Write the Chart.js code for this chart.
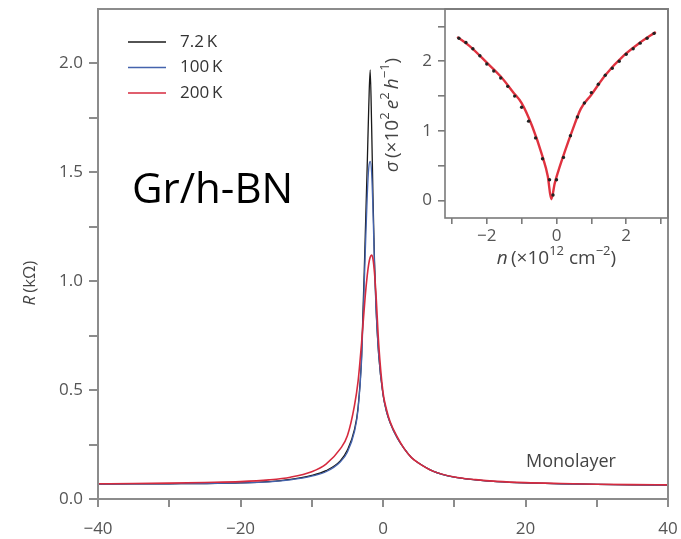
<!DOCTYPE html>
<html>
<head>
<meta charset="utf-8">
<script src="https://cdn.jsdelivr.net/npm/chart.js@4.4.1/dist/chart.umd.min.js"></script>
<style>
  html, body { margin: 0; padding: 0; background: #fff; }
  #wrap { position: relative; width: 681px; height: 539px; }
  #mainChart { position: absolute; left: 0; top: 0; }
  #insetChart { position: absolute; left: 380px; top: 0; }
</style>
</head>
<body>
<div id="wrap">
  <canvas id="mainChart" width="681" height="539"></canvas>
  <canvas id="insetChart" width="295" height="275"></canvas>
</div>
<script>
// main panel: R vs gate voltage
const seriesLabels = ['7.2\u2009K', '100\u2009K', '200\u2009K'];
const vg = [-40, -35, -30, -25, -20, -16, -13, -10, -8, -6, -5, -4, -3.5, -3, -2.5, -2.2, -2, -1.8, -1.6, -1.4, -1.2, -1, -0.6, 0, 0.5, 1, 2, 3, 4, 5, 7, 10, 13, 16, 20, 25, 30, 35, 40];
const r72 = [0.068, 0.069, 0.070, 0.071, 0.074, 0.080, 0.090, 0.108, 0.130, 0.175, 0.225, 0.32, 0.42, 0.66, 1.20, 1.55, 1.80, 1.97, 1.72, 1.38, 1.10, 0.90, 0.66, 0.48, 0.40, 0.35, 0.28, 0.23, 0.19, 0.165, 0.128, 0.100, 0.088, 0.080, 0.074, 0.070, 0.067, 0.065, 0.064];
const r100 = [0.068, 0.069, 0.070, 0.071, 0.074, 0.079, 0.088, 0.105, 0.125, 0.170, 0.215, 0.31, 0.41, 0.64, 1.12, 1.40, 1.52, 1.55, 1.50, 1.32, 1.08, 0.89, 0.66, 0.48, 0.40, 0.35, 0.28, 0.23, 0.19, 0.165, 0.128, 0.100, 0.088, 0.080, 0.074, 0.070, 0.067, 0.065, 0.064];
const r200 = [0.070, 0.071, 0.073, 0.076, 0.080, 0.088, 0.100, 0.125, 0.160, 0.230, 0.29, 0.43, 0.54, 0.72, 0.93, 1.03, 1.08, 1.11, 1.12, 1.10, 1.04, 0.95, 0.71, 0.49, 0.41, 0.355, 0.285, 0.23, 0.19, 0.165, 0.128, 0.101, 0.089, 0.081, 0.075, 0.071, 0.068, 0.066, 0.065];
const xTicks = [-40, -30, -20, -10, 0, 10, 20, 30, 40];
const yTicks = [0, 0.25, 0.5, 0.75, 1, 1.25, 1.5, 1.75, 2];

// inset: conductivity vs carrier density
const nDots = [-2.8, -2.6, -2.4, -2.2, -2.0, -1.8, -1.6, -1.4, -1.2, -1.0, -0.8, -0.6, -0.4, -0.2, -0.1, 0.0, 0.2, 0.4, 0.6, 0.8, 1.0, 1.2, 1.4, 1.6, 1.8, 2.0, 2.2, 2.4, 2.6, 2.8];
const sigmaDots = [2.33, 2.27, 2.18, 2.08, 1.96, 1.86, 1.76, 1.64, 1.50, 1.34, 1.14, 0.90, 0.60, 0.30, 0.08, 0.30, 0.62, 0.93, 1.20, 1.40, 1.55, 1.67, 1.80, 1.90, 2.00, 2.10, 2.18, 2.26, 2.33, 2.40];
const nFit = [-2.85, -2.5, -2.0, -1.6, -1.25, -1.0, -0.7, -0.4, -0.25, -0.15, -0.05, 0.05, 0.25, 0.45, 0.7, 1.0, 1.4, 1.95, 2.35, 2.85];
const sigmaFit = [2.35, 2.22, 1.98, 1.78, 1.56, 1.40, 1.07, 0.63, 0.35, 0.02, 0.25, 0.42, 0.72, 1.00, 1.32, 1.52, 1.80, 2.09, 2.25, 2.42];
const nTicks = [-3, -2, -1, 0, 1, 2, 3];
const sTicks = [0, 0.5, 1, 1.5, 2, 2.5];

const lineColors = ['#1a1a1a', '#4463ad', '#d62a3e'];
const tickFont = { family: 'Open Sans', size: 17 };
const axisGray = '#8c8c8c';

function pts(xs, ys) {
  return xs.map((x, i) => ({ x: x, y: ys[i] }));
}
function minus(v) {
  return String(v).replace('-', '\u2212');
}
// keep the plot area where it is; tick labels may overhang
function noPad(s) {
  s.paddingTop = 0;
  s.paddingBottom = 0;
  s.paddingLeft = 0;
  s.paddingRight = 0;
}

// draws text made of pieces: '' normal, 'i' italic, 's' superscript
function drawRich(ctx, segs, x, y, size, rotate) {
  const fontFor = (kind) => {
    const sz = kind === 's' ? Math.round(size * 0.7) : size;
    return (kind === 'i' ? 'italic ' : '') + sz + 'px "Open Sans"';
  };
  let total = 0;
  segs.forEach(([t, k]) => { ctx.font = fontFor(k); total += ctx.measureText(t).width; });
  ctx.save();
  ctx.translate(x, y);
  if (rotate) ctx.rotate(-Math.PI / 2);
  ctx.textBaseline = 'middle';
  ctx.textAlign = 'left';
  let cx = -total / 2;
  segs.forEach(([t, k]) => {
    ctx.font = fontFor(k);
    ctx.fillText(t, cx, k === 's' ? -size * 0.38 : 0);
    cx += ctx.measureText(t).width;
  });
  ctx.restore();
}

const mainDecor = {
  id: 'mainDecor',
  afterDraw(chart) {
    const { ctx, chartArea: a } = chart;
    ctx.save();
    ctx.strokeStyle = axisGray;
    ctx.lineWidth = 2;
    ctx.strokeRect(a.left, a.top, a.right - a.left, a.bottom - a.top);

    // legend
    ctx.font = '17px "Open Sans"';
    ctx.textBaseline = 'middle';
    chart.data.datasets.forEach((ds, i) => {
      const ly = 42 + i * 25.5;
      ctx.strokeStyle = ds.borderColor;
      ctx.lineWidth = 1.5;
      ctx.beginPath();
      ctx.moveTo(128, ly);
      ctx.lineTo(166, ly);
      ctx.stroke();
      ctx.fillStyle = '#333';
      ctx.fillText(ds.label, 180, ly);
    });

    ctx.fillStyle = '#000';
    ctx.font = '42px "Open Sans"';
    ctx.fillText('Gr/h-BN', 132, 191);

    ctx.fillStyle = '#444';
    ctx.font = '18px "Open Sans"';
    ctx.fillText('Monolayer', 526, 462);

    ctx.fillStyle = '#444';
    drawRich(ctx, [['R', 'i'], ['\u2009(k\u03a9)', '']], 30, 283, 17, true);
    ctx.restore();
  }
};

const insetDecor = {
  id: 'insetDecor',
  afterDraw(chart) {
    const { ctx, chartArea: a } = chart;
    ctx.save();
    ctx.strokeStyle = '#7a7a7a';
    ctx.lineWidth = 1.6;
    ctx.strokeRect(a.left, a.top, a.right - a.left, a.bottom - a.top);
    ctx.fillStyle = '#444';
    drawRich(ctx, [['\u03c3', 'i'], ['\u2009(\u00d710', ''], ['2', 's'], ['\u2009', ''], ['e', 'i'], ['2', 's'], ['\u2009', ''], ['h', 'i'], ['\u22121', 's'], [')', '']], 13, 115, 19, true);
    drawRich(ctx, [['n', 'i'], ['\u2009(\u00d710', ''], ['12', 's'], [' cm', ''], ['\u22122', 's'], [')', '']], (a.left + a.right) / 2, 259, 19, false);
    ctx.restore();
  }
};

new Chart(document.getElementById('mainChart').getContext('2d'), {
  type: 'line',
  data: {
    datasets: [
      { label: seriesLabels[0], data: pts(vg, r72), borderColor: lineColors[0], borderWidth: 1.3, order: 2 },
      { label: seriesLabels[1], data: pts(vg, r100), borderColor: lineColors[1], borderWidth: 1.3, order: 1 },
      { label: seriesLabels[2], data: pts(vg, r200), borderColor: lineColors[2], borderWidth: 1.6, order: 0 }
    ]
  },
  options: {
    responsive: false,
    animation: false,
    layout: { padding: { top: 9, right: 13, left: 0, bottom: 0 } },
    elements: { point: { radius: 0 }, line: { cubicInterpolationMode: 'monotone' } },
    plugins: { legend: { display: false }, tooltip: { enabled: false } },
    scales: {
      x: {
        type: 'linear', min: -40, max: 40,
        afterBuildTicks: (s) => { s.ticks = xTicks.map(v => ({ value: v })); },
        afterFit: (s) => { s.height = 40; noPad(s); },
        ticks: { autoSkip: false, maxRotation: 0, padding: 12, color: '#555', font: tickFont,
          callback: (v) => (v % 20 === 0 ? minus(v) : '') },
        grid: { drawOnChartArea: false, tickLength: 8, color: axisGray, lineWidth: 2 },
        border: { display: false }
      },
      y: {
        type: 'linear', min: 0, max: 2.25,
        afterBuildTicks: (s) => { s.ticks = yTicks.map(v => ({ value: v })); },
        afterFit: (s) => { s.width = 98; noPad(s); },
        ticks: { autoSkip: false, padding: 6, color: '#555', font: tickFont,
          callback: (v) => (Math.abs(v * 2 - Math.round(v * 2)) < 1e-9 ? v.toFixed(1) : '') },
        grid: { drawOnChartArea: false, tickLength: 9, color: axisGray, lineWidth: 2 },
        border: { display: false }
      }
    }
  },
  plugins: [mainDecor]
});

new Chart(document.getElementById('insetChart').getContext('2d'), {
  type: 'line',
  data: {
    datasets: [
      { label: 'data', data: pts(nDots, sigmaDots), showLine: false, pointRadius: 1.7,
        pointBackgroundColor: '#222', pointBorderWidth: 0, order: 0 },
      { label: 'fit', data: pts(nFit, sigmaFit), borderColor: '#e0323f', borderWidth: 2.4,
        pointRadius: 0, cubicInterpolationMode: 'monotone', order: 1 }
    ]
  },
  options: {
    responsive: false,
    animation: false,
    layout: { padding: { top: 9, right: 7, left: 0, bottom: 0 } },
    plugins: { legend: { display: false }, tooltip: { enabled: false } },
    scales: {
      x: {
        type: 'linear', min: -3.2, max: 3.2,
        afterBuildTicks: (s) => { s.ticks = nTicks.map(v => ({ value: v })); },
        afterFit: (s) => { s.height = 57; noPad(s); },
        ticks: { autoSkip: false, maxRotation: 0, padding: 2, color: '#555', font: tickFont,
          callback: (v) => (v % 2 === 0 ? minus(v) : '') },
        grid: { drawOnChartArea: false, tickLength: 6, color: '#7a7a7a', lineWidth: 1.6 },
        border: { display: false }
      },
      y: {
        type: 'linear', min: -0.25, max: 2.75,
        afterBuildTicks: (s) => { s.ticks = sTicks.map(v => ({ value: v })); },
        afterFit: (s) => { s.width = 65; noPad(s); },
        ticks: { autoSkip: false, padding: 6, color: '#555', font: tickFont,
          callback: (v) => (Number.isInteger(v) ? String(v) : '') },
        grid: { drawOnChartArea: false, tickLength: 7, color: '#7a7a7a', lineWidth: 1.6 },
        border: { display: false }
      }
    }
  },
  plugins: [insetDecor]
});
</script>
</body>
</html>
